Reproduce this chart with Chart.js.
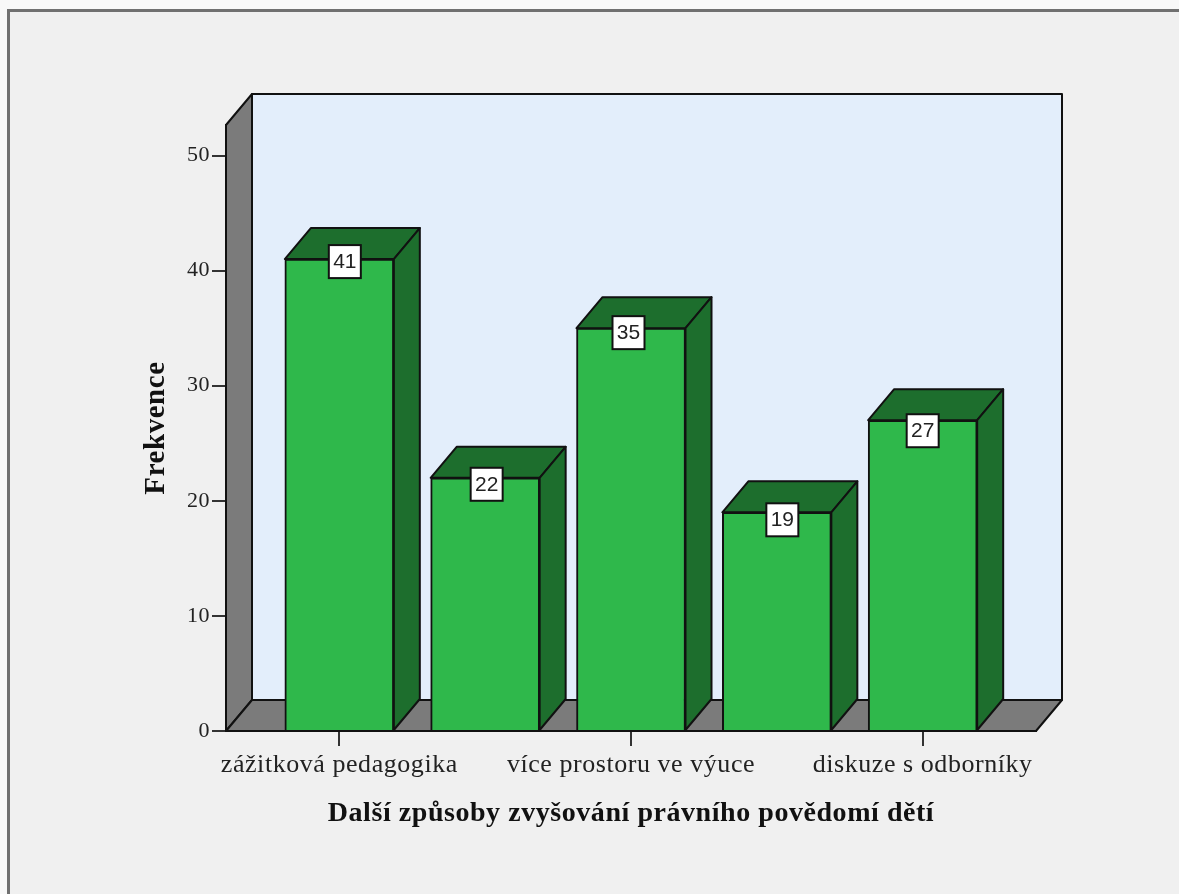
<!DOCTYPE html>
<html>
<head>
<meta charset="utf-8">
<title>Další způsoby zvyšování právního povědomí dětí</title>
<script src="https://cdn.jsdelivr.net/npm/chart.js@4"></script>
<style>
  body { margin: 0; background: #f8f8f8; }
  canvas { display: block; }
</style>
</head>
<body>
<canvas id="freqChart" width="1179" height="894"></canvas>
<script>
// Only every other category name is printed in the picture
const categories = ['zážitková pedagogika', '', 'více prostoru ve výuce', '', 'diskuze s odborníky'];
const positions = [0, 1, 2, 3, 4];
const labeledPositions = [0, 2, 4];
const frequencies = [41, 22, 35, 19, 27];
const yTickValues = [0, 10, 20, 30, 40, 50];

const xTitle = 'Další způsoby zvyšování právního povědomí dětí';
const yTitle = 'Frekvence';

const DEPTH_X = 26;
const DEPTH_Y = 31;
const OUTLINE = '#111111';

// value boxes sit a little off the bar centre, differently for each bar
const BOX_SHIFT_X = [5.5, 1.5, -2.5, 5.5, 0];
const BOX_SHIFT_Y = [-14, -10, -12, -9, -6];

function poly(ctx, pts, fill)
{
  ctx.beginPath();
  ctx.moveTo(pts[0][0], pts[0][1]);
  for (let i = 1; i < pts.length; i++) {
    ctx.lineTo(pts[i][0], pts[i][1]);
  }
  ctx.closePath();
  ctx.fillStyle = fill;
  ctx.fill();
  ctx.lineWidth = 2;
  ctx.strokeStyle = OUTLINE;
  ctx.lineJoin = 'round';
  ctx.stroke();
}

const box3d = {
  id: 'box3d',

  // window frame and the three walls, behind the axes
  beforeDraw(chart) {
    const ctx = chart.ctx;
    const a = chart.chartArea;
    ctx.save();
    ctx.fillStyle = '#f0f0f0';
    ctx.fillRect(8, 10, chart.width - 8, chart.height - 10);
    ctx.fillStyle = '#707070';
    ctx.fillRect(7, 9, chart.width - 7, 3);
    ctx.fillRect(7, 9, 3, chart.height - 9);

    poly(ctx, [[a.left + DEPTH_X, a.top - DEPTH_Y], [a.right + DEPTH_X, a.top - DEPTH_Y], [a.right + DEPTH_X, a.bottom - DEPTH_Y], [a.left + DEPTH_X, a.bottom - DEPTH_Y]], '#e3eefb');
    poly(ctx, [[a.left, a.top], [a.left + DEPTH_X, a.top - DEPTH_Y], [a.left + DEPTH_X, a.bottom - DEPTH_Y], [a.left, a.bottom]], '#7b7b7b');
    poly(ctx, [[a.left, a.bottom], [a.left + DEPTH_X, a.bottom - DEPTH_Y], [a.right + DEPTH_X, a.bottom - DEPTH_Y], [a.right, a.bottom]], '#7b7b7b');
    ctx.restore();
    ctx.letterSpacing = '0.55px';
  },

  // top and side of each bar
  beforeDatasetsDraw(chart) {
    const ctx = chart.ctx;
    ctx.save();
    chart.getDatasetMeta(0).data.forEach(function(bar) {
      const l = bar.x - bar.width / 2;
      const r = bar.x + bar.width / 2;
      poly(ctx, [[l, bar.y], [l + DEPTH_X, bar.y - DEPTH_Y], [r + DEPTH_X, bar.y - DEPTH_Y], [r, bar.y]], '#1d6e2d');
      poly(ctx, [[r, bar.y], [r + DEPTH_X, bar.y - DEPTH_Y], [r + DEPTH_X, bar.base - DEPTH_Y], [r, bar.base]], '#1d6e2d');
    });
    ctx.restore();
  },

  // value boxes
  afterDatasetsDraw(chart) {
    const ctx = chart.ctx;
    ctx.save();
    ctx.letterSpacing = '0px';
    chart.getDatasetMeta(0).data.forEach(function(bar, i) {
      const cx = bar.x + BOX_SHIFT_X[i];
      const top = bar.y + BOX_SHIFT_Y[i];
      ctx.fillStyle = '#ffffff';
      ctx.strokeStyle = OUTLINE;
      ctx.lineWidth = 2;
      ctx.fillRect(cx - 16, top, 32, 33);
      ctx.strokeRect(cx - 16, top, 32, 33);
      ctx.fillStyle = '#222222';
      ctx.font = '21px "Liberation Sans"';
      ctx.textAlign = 'center';
      ctx.textBaseline = 'middle';
      ctx.fillText(String(frequencies[i]), cx, top + 17);
    });
    ctx.restore();
  }
};

new Chart(document.getElementById('freqChart'), {
  type: 'bar',
  data: {
    datasets: [{
      label: yTitle,
      data: positions.map(function(p, i) { return { x: p, y: frequencies[i] }; }),
      backgroundColor: '#2fb84b',
      borderColor: OUTLINE,
      borderWidth: 2,
      barThickness: 109
    }]
  },
  plugins: [box3d],
  options: {
    responsive: false,
    animation: false,
    layout: { padding: { top: 125, right: 143, left: 0, bottom: 0 } },
    plugins: {
      legend: { display: false },
      title: { display: false },
      tooltip: { enabled: false }
    },
    scales: {
      x: {
        type: 'linear',
        offset: false,
        min: -0.777,
        max: 4.777,
        afterBuildTicks(scale) {
          scale.ticks = labeledPositions.map(function(v) { return { value: v }; });
        },
        afterFit(scale) { scale.height = 163; },
        grid: { display: true, offset: false, drawOnChartArea: false, drawTicks: true, tickLength: 15, tickColor: '#333333', lineWidth: 2 },
        border: { color: OUTLINE, width: 2 },
        ticks: {
          autoSkip: false,
          maxRotation: 0,
          minRotation: 0,
          padding: 4,
          color: '#222222',
          font: { family: '"Liberation Serif"', size: 26 },
          callback(value) { return categories[value]; }
        },
        title: {
          display: true,
          text: xTitle,
          color: '#111111',
          font: { family: '"Liberation Serif"', size: 28, weight: 'bold' },
          padding: { top: 0, bottom: 63 }
        }
      },
      y: {
        min: 0,
        max: 52.65,
        afterBuildTicks(scale) {
          scale.ticks = yTickValues.map(function(v) { return { value: v }; });
        },
        afterFit(scale) { scale.width = 226; },
        grid: { display: true, drawOnChartArea: false, drawTicks: true, tickLength: 14, tickColor: '#333333', lineWidth: 2 },
        border: { color: OUTLINE, width: 2 },
        ticks: {
          padding: 2,
          color: '#222222',
          font: { family: '"Liberation Serif"', size: 22 }
        },
        title: {
          display: true,
          text: yTitle,
          color: '#111111',
          font: { family: '"Liberation Serif"', size: 29, weight: 'bold' },
          padding: { top: 139, bottom: 0 }
        }
      }
    }
  }
});
</script>
</body>
</html>
